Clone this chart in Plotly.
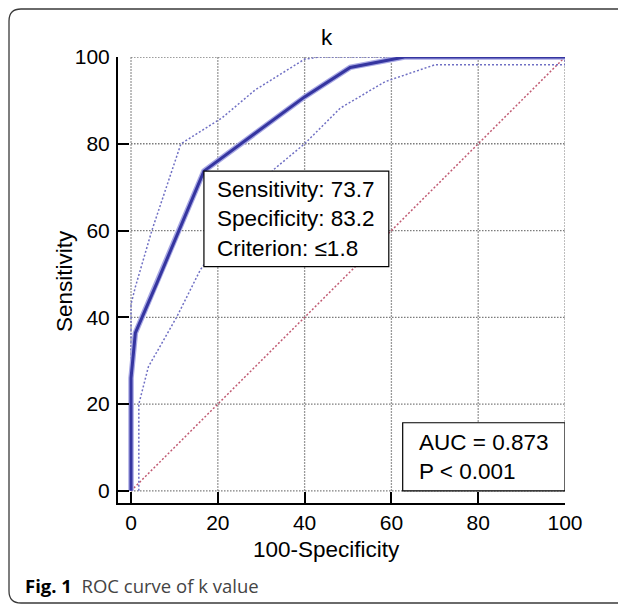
import plotly.graph_objects as go

# ---- data ----
roc_x = [0, 0, 1, 6, 16.8, 40, 50.5, 63, 100]
roc_y = [0, 26, 36.4, 48, 73.7, 90.8, 97.6, 100, 100]

upper_x = [0, 0, 1, 4.8, 11.5, 21, 28.6, 40, 43.5, 100]
upper_y = [0, 43, 47, 60, 80, 86, 92.4, 99.5, 100, 100]

lower_x = [1.8, 1.8, 4, 10.5, 16, 32.8, 40, 48.2, 58.5, 70, 100, 100]
lower_y = [0, 20, 28.6, 40, 51, 74, 80, 88.2, 94.3, 98.2, 98.2, 100]

diag_x = [0, 100]
diag_y = [0, 100]

ticks = [0, 20, 40, 60, 80, 100]

criterion_point = (16.8, 73.7)
box1_text = "Sensitivity: 73.7<br>Specificity: 83.2<br>Criterion: \u22641.8"
box2_text = "AUC = 0.873<br>P < 0.001"

# ---- layout geometry (reference-window pixels; page body has an 8px margin) ----
OFF = 8
W, H = 626 - OFF, 605 - OFF
L, R, T, B = 118, 565, 57, 503  # in window pixels


def px(x):
    return (x - L) / (R - L)


def py(y):
    return (B - y) / (B - T)


FONT = "Arial, Liberation Sans, sans-serif"

fig = go.Figure()
fig.add_trace(go.Scatter(x=diag_x, y=diag_y, mode="lines",
                         line=dict(color="#c05a72", width=1.5, dash="2px,2px"),
                         hoverinfo="skip"))
fig.add_trace(go.Scatter(x=upper_x, y=upper_y, mode="lines",
                         line=dict(color="#7070c4", width=1.5, dash="2px,2px"),
                         hoverinfo="skip"))
fig.add_trace(go.Scatter(x=lower_x, y=lower_y, mode="lines",
                         line=dict(color="#7070c4", width=1.5, dash="2px,2px"),
                         hoverinfo="skip"))
fig.add_trace(go.Scatter(x=roc_x, y=roc_y, mode="lines",
                         line=dict(color="#a8a8e4", width=5.5),
                         hoverinfo="skip"))
fig.add_trace(go.Scatter(x=roc_x, y=roc_y, mode="lines",
                         line=dict(color="#3535a0", width=3),
                         hoverinfo="skip"))

shapes = []
# dotted grid limited to 0..100
for t in ticks:
    shapes.append(dict(type="line", xref="x", yref="y", x0=t, x1=t, y0=0, y1=100,
                       line=dict(color="#7a7a7a", width=1.3, dash="1.5px,1.5px"), layer="below"))
    shapes.append(dict(type="line", xref="x", yref="y", x0=0, x1=100, y0=t, y1=t,
                       line=dict(color="#7a7a7a", width=1.3, dash="1.5px,1.5px"), layer="below"))

# boxes
cx, cy = criterion_point
shapes.append(dict(type="rect", xref="x", yref="y", x0=cx, x1=59.4, y0=51.7, y1=cy,
                   fillcolor="white", line=dict(color="black", width=1.2), layer="above"))
shapes.append(dict(type="rect", xref="x", yref="y", x0=62.6, x1=100, y0=0, y1=15.7,
                   fillcolor="white", line=dict(color="black", width=1.2), layer="above"))

# rounded outer frame (extends beyond right/bottom edges)
x0, y0, x1, y1, r = 9, 9, 640, 603, 12
path = (f"M {px(x0 + r)},{py(y0)} L {px(x1 - r)},{py(y0)} "
        f"Q {px(x1)},{py(y0)} {px(x1)},{py(y0 + r)} "
        f"L {px(x1)},{py(y1 - r)} Q {px(x1)},{py(y1)} {px(x1 - r)},{py(y1)} "
        f"L {px(x0 + r)},{py(y1)} Q {px(x0)},{py(y1)} {px(x0)},{py(y1 - r)} "
        f"L {px(x0)},{py(y0 + r)} Q {px(x0)},{py(y0)} {px(x0 + r)},{py(y0)} Z")
shapes.append(dict(type="path", xref="paper", yref="paper", path=path,
                   line=dict(color="#3a3a3a", width=1.3), layer="above"))

TS = 22.5
annotations = [
    dict(x=px(215), y=(51.7 + cy) / 2, xref="paper", yref="y", text=box1_text,
         showarrow=False, xanchor="left", yanchor="middle", align="left",
         font=dict(family=FONT, size=TS, color="black")),
    dict(x=px(417), y=py(457), xref="paper", yref="paper", text=box2_text,
         showarrow=False, xanchor="left", yanchor="middle", align="left",
         font=dict(family=FONT, size=TS, color="black")),
    dict(x=px(327), y=py(37), xref="paper", yref="paper", text="k",
         showarrow=False, xanchor="center", yanchor="middle",
         font=dict(family=FONT, size=TS, color="black")),
    dict(x=px(326), y=py(549), xref="paper", yref="paper", text="100-Specificity",
         showarrow=False, xanchor="center", yanchor="middle",
         font=dict(family=FONT, size=TS, color="black")),
    dict(x=px(64), y=py(281), xref="paper", yref="paper", text="Sensitivity",
         showarrow=False, xanchor="center", yanchor="middle", textangle=-90,
         font=dict(family=FONT, size=TS, color="black")),
    dict(x=px(23), y=py(585), xref="paper", yref="paper",
         text="<b>Fig. 1</b>  <span style='color:#444'>ROC curve of k value</span>",
         showarrow=False, xanchor="left", yanchor="middle",
         font=dict(family="Open Sans, Noto Sans, sans-serif", size=18.5, color="black")),
]

axis_common = dict(showgrid=False, zeroline=False, showline=True, linecolor="black",
                   linewidth=2, ticks="inside", ticklen=11, tickwidth=2,
                   tickcolor="black", tickvals=ticks, ticktext=[str(t) for t in ticks],
                   tickfont=dict(family=FONT, size=21, color="black"), fixedrange=True)

fig.update_layout(
    width=W, height=H,
    margin=dict(l=L - OFF, r=(W + OFF) - R, t=T - OFF, b=(H + OFF) - B, pad=0),
    paper_bgcolor="white", plot_bgcolor="white",
    showlegend=False,
    xaxis=dict(range=[-3, 100], **axis_common),
    yaxis=dict(range=[-2.8, 100], ticklabelstandoff=2, **axis_common),
    shapes=shapes, annotations=annotations,
)

fig.write_html("out.html")
